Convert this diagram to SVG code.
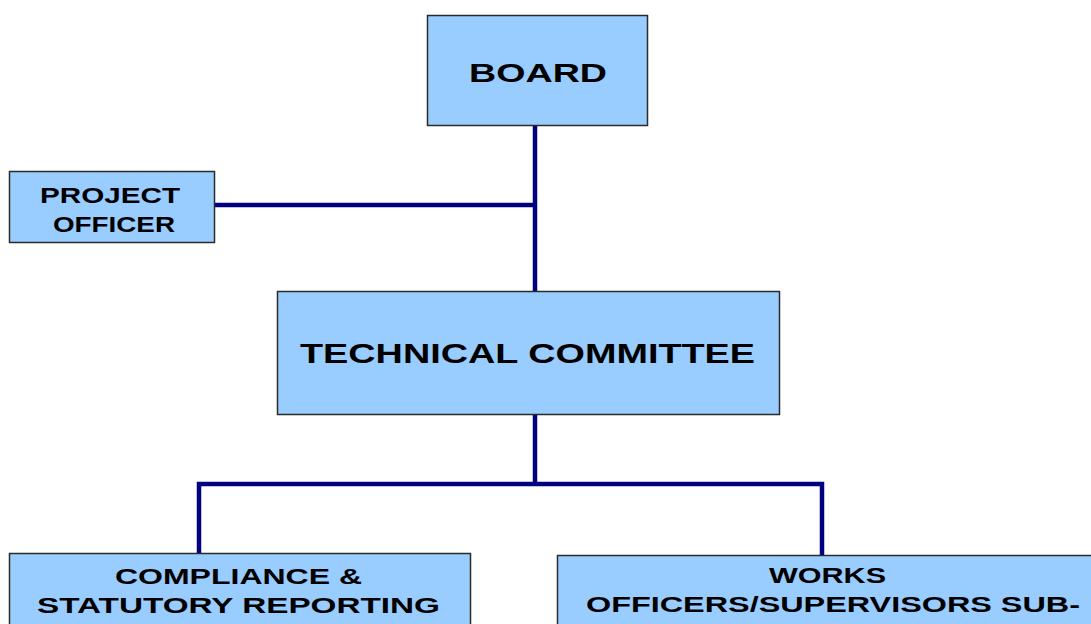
<svg xmlns="http://www.w3.org/2000/svg" width="1091" height="624" viewBox="0 0 1091 624">
<style>
.box{fill:#99ccff;stroke:#2b2b2b;stroke-width:1.5}
.lbl{font-family:"Liberation Sans",Arial,sans-serif;font-weight:bold;fill:#000}
.conn{fill:none;stroke:#000080;stroke-width:4.5;stroke-linecap:butt;stroke-linejoin:miter}
</style>
<rect width="1091" height="624" fill="#ffffff"/>
<g id="connectors">
<path class="conn" d="M535,125 V291"/>
<path class="conn" d="M214,205 H535"/>
<path class="conn" d="M535,415 V484"/>
<path class="conn" d="M199,553 V484 H822 V555"/>
</g>
<g id="board">
<rect class="box" x="427.5" y="15.5" width="220" height="110"/>
<text class="lbl" x="469" y="82" font-size="26" textLength="138" lengthAdjust="spacingAndGlyphs">BOARD</text>
</g>
<g id="project-officer">
<rect class="box" x="9.5" y="171.5" width="205" height="71"/>
<text class="lbl" x="40" y="203" font-size="22" textLength="140" lengthAdjust="spacingAndGlyphs">PROJECT</text>
<text class="lbl" x="53" y="232" font-size="22" textLength="122" lengthAdjust="spacingAndGlyphs">OFFICER</text>
</g>
<g id="technical-committee">
<rect class="box" x="277.5" y="291.5" width="502" height="123"/>
<text class="lbl" x="300" y="363" font-size="28" textLength="455" lengthAdjust="spacingAndGlyphs">TECHNICAL COMMITTEE</text>
</g>
<g id="compliance">
<rect class="box" x="9.5" y="553.5" width="461" height="90"/>
<text class="lbl" x="115" y="584" font-size="22" textLength="247" lengthAdjust="spacingAndGlyphs">COMPLIANCE &amp;</text>
<text class="lbl" x="37" y="613" font-size="22" textLength="403" lengthAdjust="spacingAndGlyphs">STATUTORY REPORTING</text>
</g>
<g id="works">
<rect class="box" x="557.5" y="555.5" width="560" height="90"/>
<text class="lbl" x="769" y="583" font-size="22" textLength="117" lengthAdjust="spacingAndGlyphs">WORKS</text>
<text class="lbl" x="586" y="612" font-size="22" textLength="494" lengthAdjust="spacingAndGlyphs">OFFICERS/SUPERVISORS SUB-</text>
</g>
</svg>
